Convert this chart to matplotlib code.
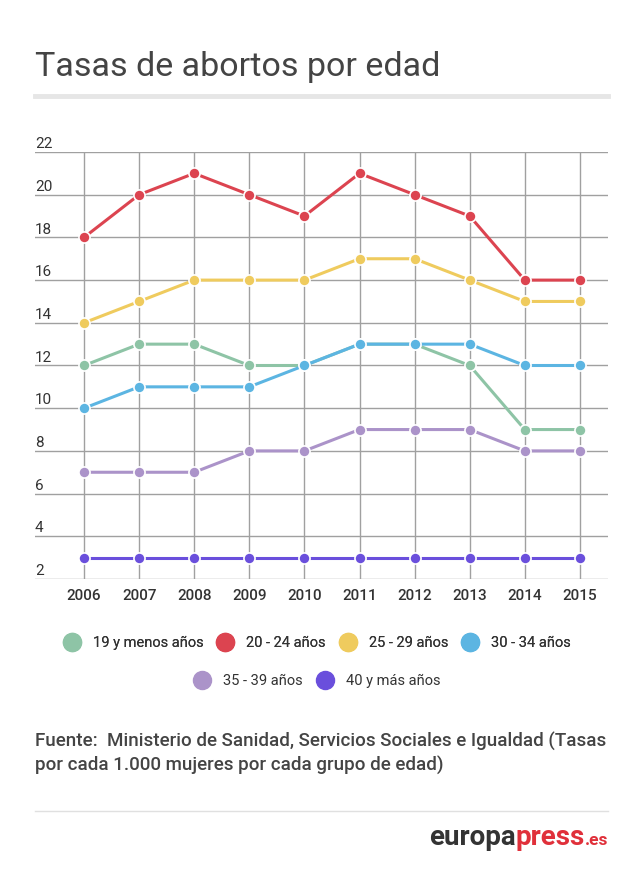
import matplotlib
matplotlib.use("Agg")
import matplotlib.pyplot as plt
from matplotlib.lines import Line2D
from matplotlib.transforms import blended_transform_factory

plt.rcParams["font.family"] = ["Roboto", "DejaVu Sans"]

years = [2006, 2007, 2008, 2009, 2010, 2011, 2012, 2013, 2014, 2015]
labels = ["19 y menos años", "20 - 24 años", "25 - 29 años", "30 - 34 años",
          "35 - 39 años", "40 y más años"]
menos19 = [12, 13, 13, 12, 12, 13, 13, 12, 9, 9]
e20_24 = [18, 20, 21, 20, 19, 21, 20, 19, 16, 16]
e25_29 = [14, 15, 16, 16, 16, 17, 17, 16, 15, 15]
e30_34 = [10, 11, 11, 11, 12, 13, 13, 13, 12, 12]
e35_39 = [7, 7, 7, 8, 8, 9, 9, 9, 8, 8]
mas40 = [3, 3, 3, 3, 3, 3, 3, 3, 3, 3]
yticks = [2, 4, 6, 8, 10, 12, 14, 16, 18, 20, 22]

series = [menos19, e20_24, e25_29, e30_34, e35_39, mas40]
colors = ["#8ec4a6", "#dc4450", "#efcb5e", "#5cb5e2", "#ab93c9", "#6a4fdc"]

W, H = 644, 871
fig = plt.figure(figsize=(W / 100, H / 100), dpi=100)
fig.patch.set_facecolor("white")

def fx(px):
    return px / W

def fy(py):
    return 1 - py / H

# title and grey bar
fig.text(fx(35), fy(76), "Tasas de abortos por edad", fontsize=24.5,
         color="#444444", va="baseline", ha="left")
fig.add_artist(Line2D([fx(35), fx(608)], [fy(96), fy(96)], color="#e6e6e6",
                      linewidth=3.5, transform=fig.transFigure))

ax = fig.add_axes([fx(35), fy(579), fx(608) - fx(35), fy(152) - fy(579)])
for v in yticks:
    ax.axhline(v, color="#a0a0a0", linewidth=1, zorder=0)
for yr in years:
    ax.axvline(yr, color="#a0a0a0", linewidth=1, zorder=0)

for vals, c, lab in zip(series, colors, labels):
    ax.plot(years, vals, color=c, linewidth=2.2, marker="o", markersize=8,
            markerfacecolor=c, markeredgecolor="white", markeredgewidth=1.2,
            label=lab, zorder=3)

ax.set_xlim(2005.11, 2015.51)
ax.set_ylim(2, 22)
ax.set_xticks(years)
ax.set_xticklabels([str(y) for y in years], fontsize=11, color="#333333",
                   fontweight="medium")
ax.set_yticks([])
ax.tick_params(axis="x", length=0, pad=7)
for s in ax.spines.values():
    s.set_visible(False)

trans = blended_transform_factory(ax.transAxes, ax.transData)
for v in yticks:
    ax.text(0, v + 0.04, str(v), transform=trans, fontsize=11, color="#333333",
            ha="left", va="bottom")

# legend in two centred rows
handles = [Line2D([], [], linestyle="none", marker="o", markersize=13,
                  markerfacecolor=c, markeredgecolor=c) for c in colors]
leg_kw = dict(loc="center", frameon=False, fontsize=10.5, handletextpad=0.84,
              columnspacing=0.9, handlelength=1.2, labelcolor="#333333")
leg1 = fig.legend(handles[:4], labels[:4], bbox_to_anchor=(fx(317), fy(643)),
                  ncol=4, **leg_kw)
fig.add_artist(leg1)
fig.legend(handles[4:], labels[4:], bbox_to_anchor=(fx(317), fy(681)),
           ncol=2, **leg_kw)

# source
fig.text(fx(35), fy(747), "Fuente:  Ministerio de Sanidad, Servicios Sociales e Igualdad (Tasas",
         fontsize=13.5, fontweight="medium", color="#444444", va="baseline", ha="left")
fig.text(fx(35), fy(771), "por cada 1.000 mujeres por cada grupo de edad)",
         fontsize=13.5, fontweight="medium", color="#444444", va="baseline", ha="left")

fig.add_artist(Line2D([fx(35), fx(608)], [fy(811), fy(811)], color="#e0e0e0",
                      linewidth=1, transform=fig.transFigure))

# europapress logo
fig.canvas.draw()
r = fig.canvas.get_renderer()
t_es = fig.text(fx(608), fy(845), ".es", fontsize=12.5, fontweight="bold",
                color="#e0303a", ha="right", va="baseline")
w_es = t_es.get_window_extent(r).width
t_press = fig.text(fx(608 - w_es), fy(845), "press", fontsize=20,
                   fontweight="bold", color="#e0303a", ha="right", va="baseline")
w_press = t_press.get_window_extent(r).width
fig.text(fx(608 - w_es - w_press), fy(845), "europa", fontsize=20,
         fontweight="bold", color="#333333", ha="right", va="baseline")

fig.savefig("out.png", dpi=100)
